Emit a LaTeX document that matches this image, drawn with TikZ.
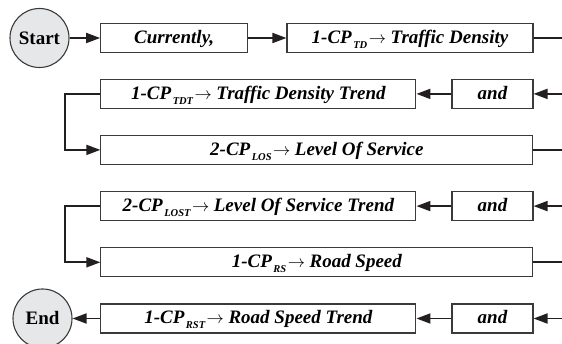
\documentclass[tikz,border=0pt]{standalone}
\usepackage{fontspec}
\setmainfont{Liberation Serif}
\usetikzlibrary{arrows.meta}

\definecolor{boxline}{HTML}{3A3A3A}
\definecolor{linecol}{HTML}{231F20}
\definecolor{termfill}{HTML}{E6E7E8}

% lowered subscript after "CP"
\newcommand\cpsub[1]{\kern1.5pt\raisebox{-5pt}{\fontsize{10.5}{10.5}\selectfont #1}}
% arrow between the code and its meaning
\newcommand\maps{\kern1.5pt$\rightarrow$\kern4.5pt}

\begin{document}
\begin{tikzpicture}[x=1pt,y=-1pt,
  every node/.style={font=\fontsize{19}{21}\selectfont\bfseries\itshape},
  box/.style={draw=boxline, line width=1.1pt, rectangle, minimum height=29pt,
    inner sep=0pt, text height=12.6pt, text depth=2pt},
  terminal/.style={circle, draw=boxline, line width=1.1pt, fill=termfill,
    minimum size=59pt, inner sep=0pt, font=\fontsize{19}{21}\selectfont\bfseries},
  conn/.style={draw=linecol, line width=1.8pt},
  arr/.style={conn, -{Triangle[length=14pt,width=10pt]}}]

\useasboundingbox (0,0) rectangle (562,344);

% row 1
\node[terminal] (start) at (39.5,38) {Start};
\node[box, minimum width=147pt] (cur) at (174.2,38) {Currently,};
\node[box, minimum width=246pt] (td) at (410,38)
  {1-CP\cpsub{TD}\maps Traffic Density};
\coordinate (r1) at (562,38);

% row 2
\node[box, minimum width=315pt] (tdt) at (258.4,93.9)
  {1-CP\cpsub{TDT}\maps Traffic Density Trend};
\node[box, minimum width=81pt] (and1) at (492.5,93.9) {and};
\coordinate (r2) at (562,93.9);

% row 3
\node[box, minimum width=432pt] (los) at (316.9,149.9)
  {2-CP\cpsub{LOS}\maps Level Of Service};
\coordinate (r3) at (562,149.9);

% row 4
\node[box, minimum width=315pt] (lost) at (258.4,206.1)
  {2-CP\cpsub{LOST}\maps Level Of Service Trend};
\node[box, minimum width=81pt] (and2) at (492.5,206.1) {and};
\coordinate (r4) at (562,206.1);

% row 5
\node[box, minimum width=432pt] (rs) at (316.9,262.3)
  {1-CP\cpsub{RS}\maps Road Speed};
\coordinate (r5) at (562,262.3);

% row 6
\node[box, minimum width=315pt] (rst) at (258.4,318.5)
  {1-CP\cpsub{RST}\maps Road Speed Trend};
\node[box, minimum width=81pt] (and3) at (492.5,318.5) {and};
\coordinate (r6) at (562,318.5);
\node[terminal] (end) at (42.5,318.5) {End};

% connectors
\draw[arr] (start) -- (cur);
\draw[arr] (cur) -- (td);
\draw[conn] (td) -- (r1);

\draw[arr] (r2) -- (and1);
\draw[arr] (and1) -- (tdt);
\draw[arr] (tdt.west) -- ++(-35.7,0) |- (los.west);
\draw[conn] (los) -- (r3);

\draw[arr] (r4) -- (and2);
\draw[arr] (and2) -- (lost);
\draw[arr] (lost.west) -- ++(-35.7,0) |- (rs.west);
\draw[conn] (rs) -- (r5);

\draw[arr] (r6) -- (and3);
\draw[arr] (and3) -- (rst);
\draw[arr] (rst) -- (end);
\end{tikzpicture}
\end{document}
